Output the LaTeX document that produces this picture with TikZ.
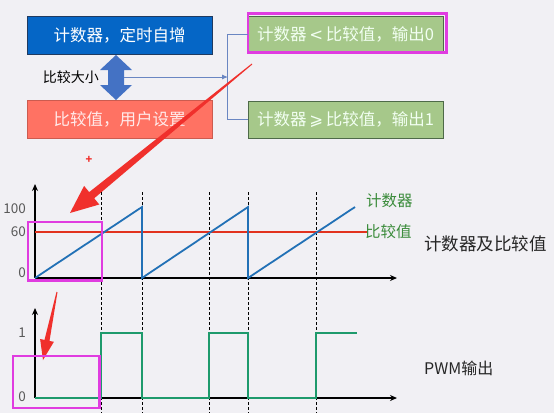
\documentclass[tikz,border=0pt]{standalone}
\usepackage{fontspec}
\setmainfont{Noto Sans CJK SC}
\newfontfamily\symfont{DejaVu Sans}
\usetikzlibrary{arrows.meta}
\definecolor{bg}{HTML}{F1F0F4}
\definecolor{bluebox}{HTML}{0566C6}
\definecolor{blueedge}{HTML}{1F3A60}
\definecolor{redbox}{HTML}{FF7263}
\definecolor{greenbox}{HTML}{A6C88A}
\definecolor{greenedge}{HTML}{4E6A48}
\definecolor{dblarrow}{HTML}{4472C4}
\definecolor{conn}{HTML}{6A86C2}
\definecolor{annot}{HTML}{F0302C}
\definecolor{mag}{HTML}{E03CE0}
\definecolor{saw}{HTML}{2271B6}
\definecolor{cmpline}{HTML}{E2321E}
\definecolor{pwm}{HTML}{1E9A6C}
\definecolor{lblgreen}{HTML}{3C8C3C}
\tikzset{
  boxstyle/.style={draw, line width=0.8pt, minimum width=185pt, minimum height=38pt, inner sep=0pt, font=\fontsize{16.5}{17}\selectfont},
  magbox/.style={draw=mag, line width=2.5pt},
  axisline/.style={line width=1.4pt, -{Stealth[length=7pt,width=6pt]}},
  dashline/.style={line width=0.9pt, dash pattern=on 3pt off 2pt},
  ticklbl/.style={text=black!65, font=\fontsize{13.5}{14}\selectfont, inner sep=0pt},
}
\begin{document}
\begin{tikzpicture}[x=1pt,y=-1pt]
\fill[bg] (0,0) rectangle (554,413);
\useasboundingbox (0,0) rectangle (554,413);

% top boxes
\node[boxstyle, fill=bluebox, draw=blueedge, text=white] (cnt) at (119.5,35) {计数器，定时自增};
\node[boxstyle, fill=redbox, draw=redbox!80!black, text=white!92!red] (cmp) at (119.5,119) {比较值，用户设置};
\node[boxstyle, minimum width=195pt, minimum height=37pt, fill=greenbox, draw=greenedge, text=white!95!green] (out0) at (345.5,34.5) {计数器\,{\symfont <}\,比较值，输出0};
\node[boxstyle, minimum width=195pt, minimum height=37pt, fill=greenbox, draw=greenedge, text=white!95!green] (out1) at (345.5,119.5) {计数器\,{\symfont ⩾}\,比较值，输出1};
\draw[magbox] (248,13.5) rectangle (446.5,52.5);

% double arrow
\fill[dblarrow] (116,55) -- (132,70) -- (124,70) -- (124,85) -- (132,85) -- (116,100) -- (100,85) -- (108,85) -- (108,70) -- (100,70) -- cycle;
\node[font=\fontsize{14}{14}\selectfont, anchor=east, inner sep=0pt] (cmplbl) at (99,77) {比较大小};
\coordinate (dstart) at (124,77);
\coordinate (bjoin) at (228,77);
\draw[conn, line width=0.9pt, -{Latex[length=6pt,width=5pt]}] (dstart) -- (bjoin);
\draw[conn, line width=0.9pt] (out0.west) -- ++(-20,0) |- (out1.west);

% big red annotation arrow
\fill[annot] (252.3,64.4) -- (94.2,198.3) -- (99.3,204.5) -- (70,213) -- (84.1,185.9) -- (89.2,192.1) -- (251.7,63.6) -- cycle;
% small plus
\node[text=annot, font=\fontsize{11}{11}\selectfont\bfseries, inner sep=0pt] (plus) at (89,160) {+};

% chart 1
\foreach \x in {101,142,209,248,316} \draw[dashline] (\x,192) -- (\x,413);
\coordinate (o1) at (35,278);
\draw[axisline] (o1) -- (35,184);
\draw[axisline] (o1) -- (397,278);
\node[ticklbl, anchor=east] (l100) at (26,209) {100};
\node[ticklbl, anchor=east] (l60) at (26,232) {60};
\node[ticklbl, anchor=east] (l0a) at (26,273) {0};
\draw[cmpline, line width=1.8pt] (35,232) -- (368,232);
\draw[saw, line width=1.8pt] (35,278) -- (142,207) -- (142,278) -- (248,207) -- (248,278) -- (355,207);
\draw[magbox] (28,222) rectangle (102,280.5);
\node[text=lblgreen, font=\fontsize{15.5}{16}\selectfont, anchor=west, inner sep=0pt] (lcnt) at (366,201) {计数器};
\node[text=lblgreen, font=\fontsize{15.5}{16}\selectfont, anchor=west, inner sep=0pt] (lcmp) at (365,232) {比较值};
\node[font=\fontsize{17.5}{18}\selectfont, anchor=west, inner sep=0pt, text=black!85] (t1) at (424,244) {计数器及比较值};

% small red arrow
\fill[annot] (57.5,292.1) -- (49.5,340.9) -- (53.9,341.8) -- (43,360) -- (40.1,339.0) -- (44.5,339.9) -- (56.5,291.9) -- cycle;

% chart 2
\coordinate (o2) at (35,398);
\draw[axisline] (o2) -- (35,308);
\draw[axisline] (o2) -- (397,398);
\node[ticklbl, anchor=east] (l1) at (26,333) {1};
\node[ticklbl, anchor=east] (l0b) at (26,397) {0};
\draw[pwm, line width=1.8pt] (35,398) -- (101,398) -- (101,333) -- (142,333) -- (142,398) -- (209,398) -- (209,333) -- (248,333) -- (248,398) -- (316,398) -- (316,333) -- (357,333);
\draw[magbox] (13,356) rectangle (99.5,408);
\node[font=\fontsize{16}{17}\selectfont, anchor=west, inner sep=0pt, text=black!85] (t2) at (424,368) {PWM输出};
\end{tikzpicture}
\end{document}
